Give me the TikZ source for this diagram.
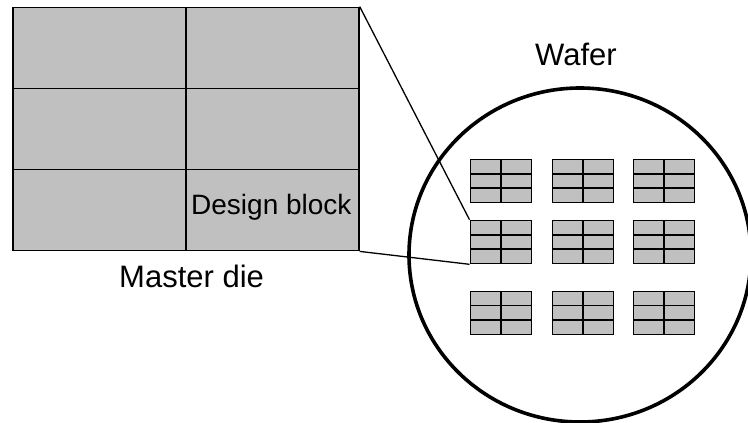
\documentclass[tikz,border=0pt]{standalone}
\usepackage{fontspec}
\setmainfont{Liberation Sans}
\usetikzlibrary{calc}
\definecolor{diegray}{RGB}{192,192,192}
\tikzset{
  gridcells/.style={path picture={
    \draw[line width=#1] (path picture bounding box.north) -- (path picture bounding box.south);
    \draw[line width=#1] ($(path picture bounding box.north west)!1/3!(path picture bounding box.south west)$) -- ($(path picture bounding box.north east)!1/3!(path picture bounding box.south east)$);
    \draw[line width=#1] ($(path picture bounding box.north west)!2/3!(path picture bounding box.south west)$) -- ($(path picture bounding box.north east)!2/3!(path picture bounding box.south east)$);
  }},
  masterdie/.style={draw, line width=1.8pt, fill=diegray, inner sep=0pt, minimum width=346pt, minimum height=243pt, gridcells=1.8pt},
  smalldie/.style={draw, line width=1.6pt, fill=diegray, inner sep=0pt, minimum width=61pt, minimum height=43pt, gridcells=1.6pt},
  waferline/.style={line width=3.6pt},
  label/.style={inner sep=0pt, anchor=base west},
  connector/.style={line width=1.3pt}
}
\begin{document}
\begin{tikzpicture}[x=1pt, y=-1pt]
\useasboundingbox (0,0) rectangle (748,423);
% wafer
\draw[waferline] (580,255) ellipse [x radius=171pt, y radius=167pt];
% master die
\node[masterdie] (master) at (185.8,129) {};
% small dies
\foreach \c/\x in {1/500.8, 2/582.8, 3/663.8}{
  \foreach \r/\y in {1/181, 2/242, 3/312.8}{
    \node[smalldie] (d\r\c) at (\x,\y) {};
  }
}
% connectors
\draw[connector] (master.north east) -- (d21.north west);
\draw[connector] (master.south east) -- (d21.south west);
% labels
\node[label, font=\fontsize{31}{37}\selectfont] (wlabel) at (535,65) {Wafer};
\node[label, font=\fontsize{31}{37}\selectfont] (mlabel) at (119,287) {Master die};
\node[label, font=\fontsize{28}{34}\selectfont] (dlabel) at (191,214.3) {Design block};
\end{tikzpicture}
\end{document}
